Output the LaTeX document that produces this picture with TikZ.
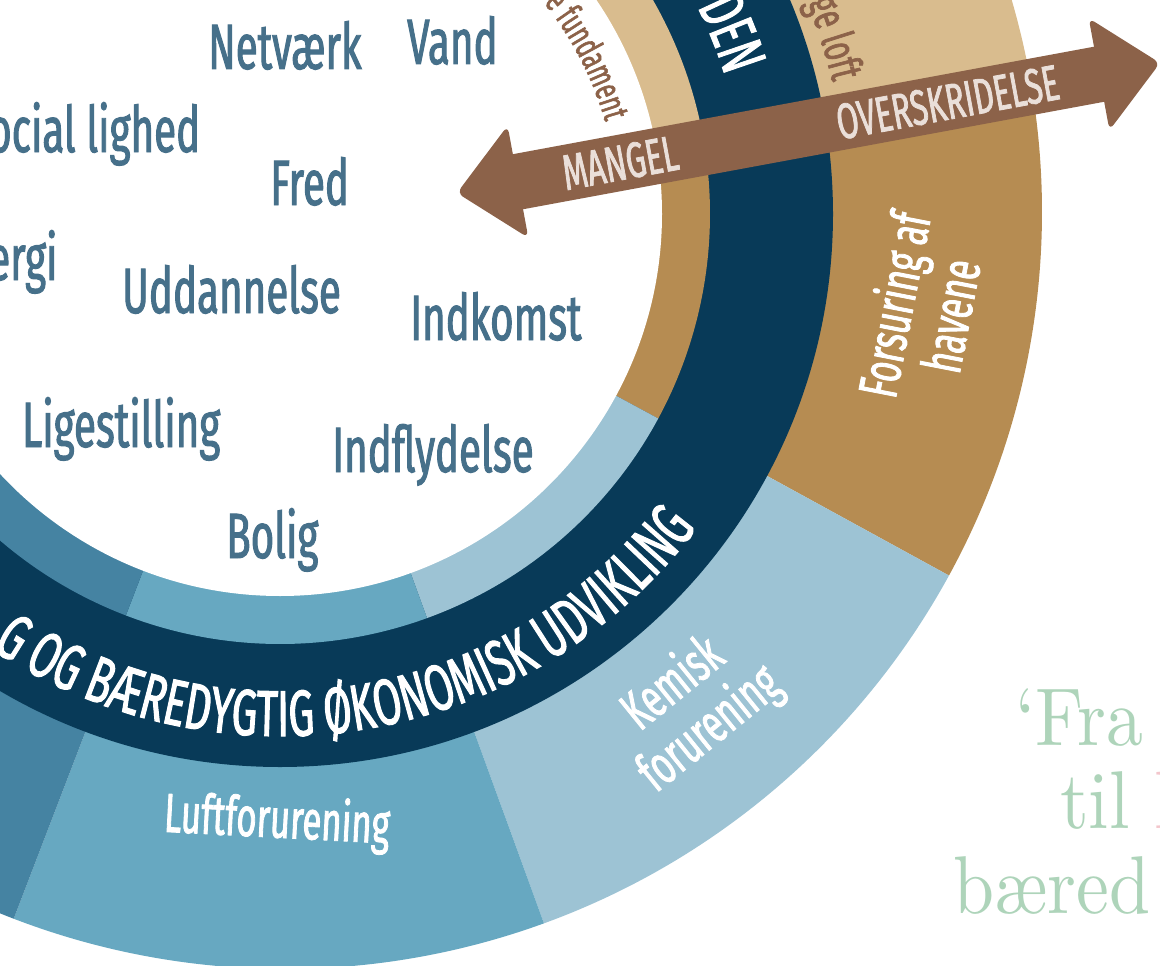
\documentclass[tikz,border=0pt]{standalone}
\usepackage{fontspec}
\newfontfamily\labelfont[FakeStretch=0.63,FakeBold=1.5]{Fira Sans}
\newfontfamily\quotefont[Extension=.otf,FakeStretch=0.9]{lmroman10-regular}
\usetikzlibrary{decorations.text}

\definecolor{navy}{HTML}{083A58}
\definecolor{ochre}{HTML}{B68C52}
\definecolor{sand}{HTML}{D9BC8E}
\definecolor{paleblue}{HTML}{9DC3D4}
\definecolor{midblue}{HTML}{67A8C1}
\definecolor{steelblue}{HTML}{4583A2}
\definecolor{arrowbrown}{HTML}{8C6249}
\definecolor{arrowtext}{HTML}{EADFD9}
\definecolor{labelblue}{HTML}{46708A}
\definecolor{quotegreen}{HTML}{AED4BA}
\definecolor{quotepink}{HTML}{F3C6CC}

\tikzset{
  need/.style={text=labelblue, font=\labelfont\fontsize{64}{64}\selectfont, inner sep=0pt, anchor=base west},
  limit/.style={text=white, font=\labelfont\fontsize{55}{58}\selectfont, align=center, inner sep=0pt},
  arrowlabel/.style={text=arrowtext, font=\labelfont\fontsize{50}{50}\selectfont, inner sep=0pt, transform shape},
  quoteline/.style={text=quotegreen, font=\quotefont\fontsize{82}{82}\selectfont, inner sep=0pt, anchor=base west},
}

\begin{document}
\begin{tikzpicture}[x=1pt,y=1pt]
\useasboundingbox (0,0) rectangle (1160,-966);
\clip (0,0) rectangle (1160,-966);

\begin{scope}[shift={(280,-214)}]
\pgfmathsetmacro{\rin}{382}
\pgfmathsetmacro{\rfound}{430}
\pgfmathsetmacro{\rband}{553}
\pgfmathsetmacro{\rceil}{757}
\coordinate (o) at (0,0);
\coordinate (oo) at (5,2);

\foreach \from/\to/\col in {9/60/sand,-28.7/9/ochre,-70/-28.7/paleblue,-111/-70/midblue,-200/-111/steelblue}
  \fill[\col] (oo) -- ++(\from:\rceil) arc[start angle=\from, end angle=\to, radius=\rceil] -- cycle;

\fill[navy] (o) circle (\rband);

\foreach \from/\to/\col in {9/60/sand,-28.4/9/ochre,-70/-28.4/paleblue,-111/-70/midblue,-200/-111/steelblue}
  \fill[\col] (o) -- ++(\from:\rfound) arc[start angle=\from, end angle=\to, radius=\rfound] -- cycle;

\fill[white] (o) circle (\rin);

\path[decorate, decoration={text along path, text align=right, text color=white,
  text={|\labelfont\fontsize{64}{64}\selectfont|DEN}}]
  (40:466) arc[start angle=40, end angle=17.2, radius=466];
\path[decorate, decoration={text along path, text align=right, text color=white,
  text={|\labelfont\fontsize{65}{65}\selectfont|G OG BÆREDYGTIG ØKONOMISK UDVIKLING}}]
  (-160:522) arc[start angle=-160, end angle=-37, radius=522];
\path[decorate, decoration={text along path, text align=right, text color=arrowbrown,
  text={|\labelfont\fontsize{37}{37}\selectfont|e fundament}}]
  (60:338) arc[start angle=60, end angle=15.8, radius=338];
\path[decorate, decoration={text along path, text align=right, text color=arrowbrown,
  text={|\labelfont\fontsize{46}{46}\selectfont|ge loft}}]
  (40:568) arc[start angle=40, end angle=13.4, radius=568];
\end{scope}

\node[need] (netvaerk) at (208,-69) {Netværk};
\node[need] (vand) at (407,-64) {Vand};
\node[need] (social) at (-12,-152) {ocial lighed};
\node[need] (fred) at (270,-205) {Fred};
\node[need] (energi) at (-12,-280) {ergi};
\node[need] (uddannelse) at (122,-313) {Uddannelse};
\node[need] (indkomst) at (410,-340) {Indkomst};
\node[need] (ligestilling) at (22,-447) {Ligestilling};
\node[need] (indflydelse) at (332,-472) {Indflydelse};
\node[need] (bolig) at (226,-558) {Bolig};

\node[limit, rotate=79] (forsuring) at (921,-310) {Forsuring af\\havene};
\node[limit, rotate=39] (kemisk) at (692,-707) {Kemisk\\forurening};
\node[limit, rotate=-3] (luft) at (277,-822) {Luftforurening};

\begin{scope}[shift={(457,-193)}, rotate=10.48]
\fill[arrowbrown] (50,-28) rectangle (665,28);
\fill[arrowbrown, rounded corners=7pt] (0,0) -- (62,57) -- (62,-57) -- cycle;
\fill[arrowbrown, rounded corners=7pt] (715,0) -- (653,57) -- (653,-57) -- cycle;
\node[arrowlabel] (mangel) at (166,0) {MANGEL};
\node[arrowlabel] (overskridelse) at (499,0) {OVERSKRIDELSE};
\end{scope}

\node[quoteline] (fra) at (1015,-745) {‘Fra};
\node[quoteline] (til) at (1060,-828) {til \textcolor{quotepink}{h}};
\node[quoteline] (baered) at (953,-913) {bæred};
\end{tikzpicture}
\end{document}
